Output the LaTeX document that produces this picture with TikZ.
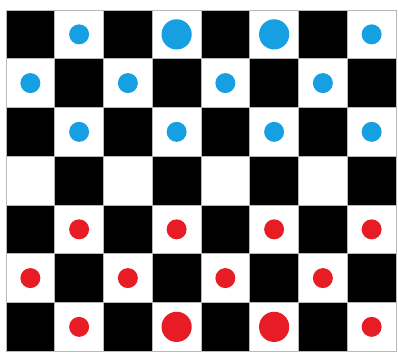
\documentclass[tikz,border=0pt]{standalone}
\usepackage{tikz}

\definecolor{pieceblue}{RGB}{22,160,226}
\definecolor{piecered}{RGB}{232,28,36}

\begin{document}
\begin{tikzpicture}[
  square/.style={
    draw=gray!55, line width=0.4pt,
    minimum size=1cm, inner sep=0pt, outer sep=0pt
  },
  darksq/.style={square, fill=black},
  lightsq/.style={square, fill=white},
  piece/.style={circle, inner sep=0pt, minimum size=0.41cm},
  kingpiece/.style={piece, minimum size=0.62cm},
  bluepc/.style={fill=pieceblue},
  redpc/.style={fill=piecered},
]
\useasboundingbox (-0.123,-0.062) rectangle (8.041,7.205);

% Board: 7 rows, 8 columns, row 1 on top
\foreach \r in {1,...,7}
  \foreach \c in {1,...,8} {
    \pgfmathtruncatemacro{\odd}{mod(\r+\c,2)}
    \ifnum\odd=1 \def\sq{lightsq}\else\def\sq{darksq}\fi
    \node[\sq] (sq-\r-\c) at (\c-0.5, 7.5-\r) {};
  }

% Blue pieces on the top three rows
\foreach \r/\c in {1/2,1/8,2/1,2/3,2/5,2/7,3/2,3/4,3/6,3/8}
  \node[piece, bluepc] (blue-\r-\c) at (sq-\r-\c) {};
\foreach \c in {4,6}
  \node[kingpiece, bluepc] (blue-1-\c) at (sq-1-\c) {};

% Red pieces on the bottom three rows
\foreach \r/\c in {5/2,5/4,5/6,5/8,6/1,6/3,6/5,6/7,7/2,7/8}
  \node[piece, redpc] (red-\r-\c) at (sq-\r-\c) {};
\foreach \c in {4,6}
  \node[kingpiece, redpc] (red-7-\c) at (sq-7-\c) {};

\end{tikzpicture}
\end{document}
